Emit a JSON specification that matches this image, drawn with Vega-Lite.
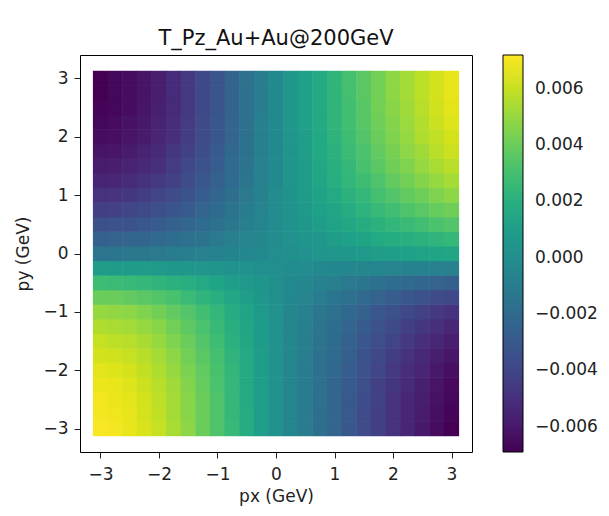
{
  "$schema": "https://vega.github.io/schema/vega-lite/v6.json",
  "autosize": {"type": "none"},
  "padding": {"left": 80, "top": 55, "right": 137, "bottom": 64},
  "width": 392,
  "height": 397,
  "background": "white",
  "title": {"text": "T_Pz_Au+Au@200GeV", "font": "DejaVu Sans", "fontSize": 21, "fontWeight": "normal", "color": "#111", "offset": 6},
  "config": {
    "view": {"stroke": "black", "strokeWidth": 1},
    "axis": {"labelFont": "DejaVu Sans", "titleFont": "DejaVu Sans", "labelFontSize": 17, "titleFontSize": 17, "titleFontWeight": "normal", "labelColor": "#222", "titleColor": "#222", "tickColor": "#222", "tickSize": 6, "grid": false, "domain": false},
    "legend": {"labelFont": "DejaVu Sans", "labelFontSize": 17, "labelColor": "#222"}
  },
  "data": {"values": [
{"px":-3,"py":-3,"v":0.0071},{"px":-2.75,"py":-3,"v":0.0070},{"px":-2.5,"py":-3,"v":0.0067},{"px":-2.25,"py":-3,"v":0.0064},{"px":-2,"py":-3,"v":0.0060},{"px":-1.75,"py":-3,"v":0.0054},{"px":-1.5,"py":-3,"v":0.0048},{"px":-1.25,"py":-3,"v":0.0040},{"px":-1,"py":-3,"v":0.0033},{"px":-0.75,"py":-3,"v":0.0026},{"px":-0.5,"py":-3,"v":0.0018},{"px":-0.25,"py":-3,"v":0.0010},{"px":0,"py":-3,"v":0.0002},{"px":0.25,"py":-3,"v":-0.0005},{"px":0.5,"py":-3,"v":-0.0011},{"px":0.75,"py":-3,"v":-0.0018},{"px":1,"py":-3,"v":-0.0024},{"px":1.25,"py":-3,"v":-0.0031},{"px":1.5,"py":-3,"v":-0.0037},{"px":1.75,"py":-3,"v":-0.0043},{"px":2,"py":-3,"v":-0.0049},{"px":2.25,"py":-3,"v":-0.0055},{"px":2.5,"py":-3,"v":-0.0060},{"px":2.75,"py":-3,"v":-0.0065},{"px":3,"py":-3,"v":-0.0069},
{"px":-3,"py":-2.75,"v":0.0070},{"px":-2.75,"py":-2.75,"v":0.0069},{"px":-2.5,"py":-2.75,"v":0.0067},{"px":-2.25,"py":-2.75,"v":0.0063},{"px":-2,"py":-2.75,"v":0.0059},{"px":-1.75,"py":-2.75,"v":0.0053},{"px":-1.5,"py":-2.75,"v":0.0047},{"px":-1.25,"py":-2.75,"v":0.0040},{"px":-1,"py":-2.75,"v":0.0033},{"px":-0.75,"py":-2.75,"v":0.0025},{"px":-0.5,"py":-2.75,"v":0.0018},{"px":-0.25,"py":-2.75,"v":0.0010},{"px":0,"py":-2.75,"v":0.0002},{"px":0.25,"py":-2.75,"v":-0.0005},{"px":0.5,"py":-2.75,"v":-0.0011},{"px":0.75,"py":-2.75,"v":-0.0018},{"px":1,"py":-2.75,"v":-0.0024},{"px":1.25,"py":-2.75,"v":-0.0030},{"px":1.5,"py":-2.75,"v":-0.0037},{"px":1.75,"py":-2.75,"v":-0.0043},{"px":2,"py":-2.75,"v":-0.0049},{"px":2.25,"py":-2.75,"v":-0.0054},{"px":2.5,"py":-2.75,"v":-0.0059},{"px":2.75,"py":-2.75,"v":-0.0064},{"px":3,"py":-2.75,"v":-0.0068},
{"px":-3,"py":-2.5,"v":0.0070},{"px":-2.75,"py":-2.5,"v":0.0068},{"px":-2.5,"py":-2.5,"v":0.0066},{"px":-2.25,"py":-2.5,"v":0.0063},{"px":-2,"py":-2.5,"v":0.0058},{"px":-1.75,"py":-2.5,"v":0.0053},{"px":-1.5,"py":-2.5,"v":0.0047},{"px":-1.25,"py":-2.5,"v":0.0040},{"px":-1,"py":-2.5,"v":0.0033},{"px":-0.75,"py":-2.5,"v":0.0025},{"px":-0.5,"py":-2.5,"v":0.0017},{"px":-0.25,"py":-2.5,"v":0.0010},{"px":0,"py":-2.5,"v":0.0002},{"px":0.25,"py":-2.5,"v":-0.0005},{"px":0.5,"py":-2.5,"v":-0.0011},{"px":0.75,"py":-2.5,"v":-0.0017},{"px":1,"py":-2.5,"v":-0.0024},{"px":1.25,"py":-2.5,"v":-0.0030},{"px":1.5,"py":-2.5,"v":-0.0036},{"px":1.75,"py":-2.5,"v":-0.0042},{"px":2,"py":-2.5,"v":-0.0048},{"px":2.25,"py":-2.5,"v":-0.0054},{"px":2.5,"py":-2.5,"v":-0.0058},{"px":2.75,"py":-2.5,"v":-0.0063},{"px":3,"py":-2.5,"v":-0.0067},
{"px":-3,"py":-2.25,"v":0.0068},{"px":-2.75,"py":-2.25,"v":0.0067},{"px":-2.5,"py":-2.25,"v":0.0065},{"px":-2.25,"py":-2.25,"v":0.0061},{"px":-2,"py":-2.25,"v":0.0057},{"px":-1.75,"py":-2.25,"v":0.0052},{"px":-1.5,"py":-2.25,"v":0.0046},{"px":-1.25,"py":-2.25,"v":0.0039},{"px":-1,"py":-2.25,"v":0.0032},{"px":-0.75,"py":-2.25,"v":0.0025},{"px":-0.5,"py":-2.25,"v":0.0017},{"px":-0.25,"py":-2.25,"v":0.0010},{"px":0,"py":-2.25,"v":0.0002},{"px":0.25,"py":-2.25,"v":-0.0005},{"px":0.5,"py":-2.25,"v":-0.0011},{"px":0.75,"py":-2.25,"v":-0.0017},{"px":1,"py":-2.25,"v":-0.0023},{"px":1.25,"py":-2.25,"v":-0.0029},{"px":1.5,"py":-2.25,"v":-0.0035},{"px":1.75,"py":-2.25,"v":-0.0042},{"px":2,"py":-2.25,"v":-0.0047},{"px":2.25,"py":-2.25,"v":-0.0052},{"px":2.5,"py":-2.25,"v":-0.0057},{"px":2.75,"py":-2.25,"v":-0.0062},{"px":3,"py":-2.25,"v":-0.0066},
{"px":-3,"py":-2,"v":0.0066},{"px":-2.75,"py":-2,"v":0.0065},{"px":-2.5,"py":-2,"v":0.0063},{"px":-2.25,"py":-2,"v":0.0059},{"px":-2,"py":-2,"v":0.0055},{"px":-1.75,"py":-2,"v":0.0050},{"px":-1.5,"py":-2,"v":0.0044},{"px":-1.25,"py":-2,"v":0.0038},{"px":-1,"py":-2,"v":0.0031},{"px":-0.75,"py":-2,"v":0.0024},{"px":-0.5,"py":-2,"v":0.0017},{"px":-0.25,"py":-2,"v":0.0009},{"px":0,"py":-2,"v":0.0002},{"px":0.25,"py":-2,"v":-0.0005},{"px":0.5,"py":-2,"v":-0.0011},{"px":0.75,"py":-2,"v":-0.0017},{"px":1,"py":-2,"v":-0.0022},{"px":1.25,"py":-2,"v":-0.0028},{"px":1.5,"py":-2,"v":-0.0034},{"px":1.75,"py":-2,"v":-0.0040},{"px":2,"py":-2,"v":-0.0046},{"px":2.25,"py":-2,"v":-0.0051},{"px":2.5,"py":-2,"v":-0.0055},{"px":2.75,"py":-2,"v":-0.0060},{"px":3,"py":-2,"v":-0.0064},
{"px":-3,"py":-1.75,"v":0.0063},{"px":-2.75,"py":-1.75,"v":0.0062},{"px":-2.5,"py":-1.75,"v":0.0060},{"px":-2.25,"py":-1.75,"v":0.0057},{"px":-2,"py":-1.75,"v":0.0053},{"px":-1.75,"py":-1.75,"v":0.0048},{"px":-1.5,"py":-1.75,"v":0.0042},{"px":-1.25,"py":-1.75,"v":0.0036},{"px":-1,"py":-1.75,"v":0.0030},{"px":-0.75,"py":-1.75,"v":0.0023},{"px":-0.5,"py":-1.75,"v":0.0016},{"px":-0.25,"py":-1.75,"v":0.0009},{"px":0,"py":-1.75,"v":0.0002},{"px":0.25,"py":-1.75,"v":-0.0004},{"px":0.5,"py":-1.75,"v":-0.0010},{"px":0.75,"py":-1.75,"v":-0.0016},{"px":1,"py":-1.75,"v":-0.0021},{"px":1.25,"py":-1.75,"v":-0.0027},{"px":1.5,"py":-1.75,"v":-0.0033},{"px":1.75,"py":-1.75,"v":-0.0039},{"px":2,"py":-1.75,"v":-0.0044},{"px":2.25,"py":-1.75,"v":-0.0049},{"px":2.5,"py":-1.75,"v":-0.0053},{"px":2.75,"py":-1.75,"v":-0.0058},{"px":3,"py":-1.75,"v":-0.0061},
{"px":-3,"py":-1.5,"v":0.0060},{"px":-2.75,"py":-1.5,"v":0.0058},{"px":-2.5,"py":-1.5,"v":0.0057},{"px":-2.25,"py":-1.5,"v":0.0054},{"px":-2,"py":-1.5,"v":0.0050},{"px":-1.75,"py":-1.5,"v":0.0045},{"px":-1.5,"py":-1.5,"v":0.0040},{"px":-1.25,"py":-1.5,"v":0.0034},{"px":-1,"py":-1.5,"v":0.0028},{"px":-0.75,"py":-1.5,"v":0.0021},{"px":-0.5,"py":-1.5,"v":0.0015},{"px":-0.25,"py":-1.5,"v":0.0008},{"px":0,"py":-1.5,"v":0.0002},{"px":0.25,"py":-1.5,"v":-0.0004},{"px":0.5,"py":-1.5,"v":-0.0010},{"px":0.75,"py":-1.5,"v":-0.0015},{"px":1,"py":-1.5,"v":-0.0020},{"px":1.25,"py":-1.5,"v":-0.0026},{"px":1.5,"py":-1.5,"v":-0.0031},{"px":1.75,"py":-1.5,"v":-0.0036},{"px":2,"py":-1.5,"v":-0.0041},{"px":2.25,"py":-1.5,"v":-0.0046},{"px":2.5,"py":-1.5,"v":-0.0050},{"px":2.75,"py":-1.5,"v":-0.0054},{"px":3,"py":-1.5,"v":-0.0058},
{"px":-3,"py":-1.25,"v":0.0055},{"px":-2.75,"py":-1.25,"v":0.0054},{"px":-2.5,"py":-1.25,"v":0.0053},{"px":-2.25,"py":-1.25,"v":0.0050},{"px":-2,"py":-1.25,"v":0.0047},{"px":-1.75,"py":-1.25,"v":0.0042},{"px":-1.5,"py":-1.25,"v":0.0037},{"px":-1.25,"py":-1.25,"v":0.0032},{"px":-1,"py":-1.25,"v":0.0026},{"px":-0.75,"py":-1.25,"v":0.0020},{"px":-0.5,"py":-1.25,"v":0.0014},{"px":-0.25,"py":-1.25,"v":0.0008},{"px":0,"py":-1.25,"v":0.0002},{"px":0.25,"py":-1.25,"v":-0.0004},{"px":0.5,"py":-1.25,"v":-0.0009},{"px":0.75,"py":-1.25,"v":-0.0014},{"px":1,"py":-1.25,"v":-0.0019},{"px":1.25,"py":-1.25,"v":-0.0024},{"px":1.5,"py":-1.25,"v":-0.0029},{"px":1.75,"py":-1.25,"v":-0.0034},{"px":2,"py":-1.25,"v":-0.0038},{"px":2.25,"py":-1.25,"v":-0.0043},{"px":2.5,"py":-1.25,"v":-0.0047},{"px":2.75,"py":-1.25,"v":-0.0050},{"px":3,"py":-1.25,"v":-0.0054},
{"px":-3,"py":-1,"v":0.0050},{"px":-2.75,"py":-1,"v":0.0049},{"px":-2.5,"py":-1,"v":0.0048},{"px":-2.25,"py":-1,"v":0.0045},{"px":-2,"py":-1,"v":0.0042},{"px":-1.75,"py":-1,"v":0.0038},{"px":-1.5,"py":-1,"v":0.0034},{"px":-1.25,"py":-1,"v":0.0029},{"px":-1,"py":-1,"v":0.0024},{"px":-0.75,"py":-1,"v":0.0018},{"px":-0.5,"py":-1,"v":0.0013},{"px":-0.25,"py":-1,"v":0.0007},{"px":0,"py":-1,"v":0.0002},{"px":0.25,"py":-1,"v":-0.0004},{"px":0.5,"py":-1,"v":-0.0008},{"px":0.75,"py":-1,"v":-0.0013},{"px":1,"py":-1,"v":-0.0017},{"px":1.25,"py":-1,"v":-0.0022},{"px":1.5,"py":-1,"v":-0.0026},{"px":1.75,"py":-1,"v":-0.0031},{"px":2,"py":-1,"v":-0.0035},{"px":2.25,"py":-1,"v":-0.0039},{"px":2.5,"py":-1,"v":-0.0042},{"px":2.75,"py":-1,"v":-0.0046},{"px":3,"py":-1,"v":-0.0049},
{"px":-3,"py":-0.75,"v":0.0040},{"px":-2.75,"py":-0.75,"v":0.0040},{"px":-2.5,"py":-0.75,"v":0.0038},{"px":-2.25,"py":-0.75,"v":0.0036},{"px":-2,"py":-0.75,"v":0.0034},{"px":-1.75,"py":-0.75,"v":0.0031},{"px":-1.5,"py":-0.75,"v":0.0027},{"px":-1.25,"py":-0.75,"v":0.0023},{"px":-1,"py":-0.75,"v":0.0019},{"px":-0.75,"py":-0.75,"v":0.0015},{"px":-0.5,"py":-0.75,"v":0.0010},{"px":-0.25,"py":-0.75,"v":0.0006},{"px":0,"py":-0.75,"v":0.0001},{"px":0.25,"py":-0.75,"v":-0.0003},{"px":0.5,"py":-0.75,"v":-0.0006},{"px":0.75,"py":-0.75,"v":-0.0010},{"px":1,"py":-0.75,"v":-0.0014},{"px":1.25,"py":-0.75,"v":-0.0017},{"px":1.5,"py":-0.75,"v":-0.0021},{"px":1.75,"py":-0.75,"v":-0.0025},{"px":2,"py":-0.75,"v":-0.0028},{"px":2.25,"py":-0.75,"v":-0.0031},{"px":2.5,"py":-0.75,"v":-0.0034},{"px":2.75,"py":-0.75,"v":-0.0037},{"px":3,"py":-0.75,"v":-0.0039},
{"px":-3,"py":-0.5,"v":0.0028},{"px":-2.75,"py":-0.5,"v":0.0027},{"px":-2.5,"py":-0.5,"v":0.0026},{"px":-2.25,"py":-0.5,"v":0.0025},{"px":-2,"py":-0.5,"v":0.0023},{"px":-1.75,"py":-0.5,"v":0.0021},{"px":-1.5,"py":-0.5,"v":0.0019},{"px":-1.25,"py":-0.5,"v":0.0016},{"px":-1,"py":-0.5,"v":0.0013},{"px":-0.75,"py":-0.5,"v":0.0010},{"px":-0.5,"py":-0.5,"v":0.0007},{"px":-0.25,"py":-0.5,"v":0.0004},{"px":0,"py":-0.5,"v":0.0001},{"px":0.25,"py":-0.5,"v":-0.0002},{"px":0.5,"py":-0.5,"v":-0.0004},{"px":0.75,"py":-0.5,"v":-0.0007},{"px":1,"py":-0.5,"v":-0.0009},{"px":1.25,"py":-0.5,"v":-0.0012},{"px":1.5,"py":-0.5,"v":-0.0014},{"px":1.75,"py":-0.5,"v":-0.0017},{"px":2,"py":-0.5,"v":-0.0019},{"px":2.25,"py":-0.5,"v":-0.0021},{"px":2.5,"py":-0.5,"v":-0.0023},{"px":2.75,"py":-0.5,"v":-0.0025},{"px":3,"py":-0.5,"v":-0.0027},
{"px":-3,"py":-0.25,"v":0.0009},{"px":-2.75,"py":-0.25,"v":0.0008},{"px":-2.5,"py":-0.25,"v":0.0008},{"px":-2.25,"py":-0.25,"v":0.0008},{"px":-2,"py":-0.25,"v":0.0007},{"px":-1.75,"py":-0.25,"v":0.0006},{"px":-1.5,"py":-0.25,"v":0.0006},{"px":-1.25,"py":-0.25,"v":0.0005},{"px":-1,"py":-0.25,"v":0.0004},{"px":-0.75,"py":-0.25,"v":0.0003},{"px":-0.5,"py":-0.25,"v":0.0002},{"px":-0.25,"py":-0.25,"v":0.0001},{"px":0,"py":-0.25,"v":0.0000},{"px":0.25,"py":-0.25,"v":-0.0001},{"px":0.5,"py":-0.25,"v":-0.0001},{"px":0.75,"py":-0.25,"v":-0.0002},{"px":1,"py":-0.25,"v":-0.0003},{"px":1.25,"py":-0.25,"v":-0.0004},{"px":1.5,"py":-0.25,"v":-0.0004},{"px":1.75,"py":-0.25,"v":-0.0005},{"px":2,"py":-0.25,"v":-0.0006},{"px":2.25,"py":-0.25,"v":-0.0007},{"px":2.5,"py":-0.25,"v":-0.0007},{"px":2.75,"py":-0.25,"v":-0.0008},{"px":3,"py":-0.25,"v":-0.0008},
{"px":-3,"py":0,"v":-0.0014},{"px":-2.75,"py":0,"v":-0.0014},{"px":-2.5,"py":0,"v":-0.0013},{"px":-2.25,"py":0,"v":-0.0013},{"px":-2,"py":0,"v":-0.0012},{"px":-1.75,"py":0,"v":-0.0011},{"px":-1.5,"py":0,"v":-0.0010},{"px":-1.25,"py":0,"v":-0.0008},{"px":-1,"py":0,"v":-0.0007},{"px":-0.75,"py":0,"v":-0.0005},{"px":-0.5,"py":0,"v":-0.0004},{"px":-0.25,"py":0,"v":-0.0002},{"px":0,"py":0,"v":0.0000},{"px":0.25,"py":0,"v":0.0001},{"px":0.5,"py":0,"v":0.0002},{"px":0.75,"py":0,"v":0.0004},{"px":1,"py":0,"v":0.0005},{"px":1.25,"py":0,"v":0.0006},{"px":1.5,"py":0,"v":0.0007},{"px":1.75,"py":0,"v":0.0009},{"px":2,"py":0,"v":0.0010},{"px":2.25,"py":0,"v":0.0011},{"px":2.5,"py":0,"v":0.0012},{"px":2.75,"py":0,"v":0.0013},{"px":3,"py":0,"v":0.0014},
{"px":-3,"py":0.25,"v":-0.0026},{"px":-2.75,"py":0.25,"v":-0.0025},{"px":-2.5,"py":0.25,"v":-0.0024},{"px":-2.25,"py":0.25,"v":-0.0023},{"px":-2,"py":0.25,"v":-0.0021},{"px":-1.75,"py":0.25,"v":-0.0019},{"px":-1.5,"py":0.25,"v":-0.0017},{"px":-1.25,"py":0.25,"v":-0.0015},{"px":-1,"py":0.25,"v":-0.0012},{"px":-0.75,"py":0.25,"v":-0.0009},{"px":-0.5,"py":0.25,"v":-0.0006},{"px":-0.25,"py":0.25,"v":-0.0004},{"px":0,"py":0.25,"v":-0.0001},{"px":0.25,"py":0.25,"v":0.0002},{"px":0.5,"py":0.25,"v":0.0004},{"px":0.75,"py":0.25,"v":0.0006},{"px":1,"py":0.25,"v":0.0009},{"px":1.25,"py":0.25,"v":0.0011},{"px":1.5,"py":0.25,"v":0.0013},{"px":1.75,"py":0.25,"v":0.0016},{"px":2,"py":0.25,"v":0.0018},{"px":2.25,"py":0.25,"v":0.0020},{"px":2.5,"py":0.25,"v":0.0021},{"px":2.75,"py":0.25,"v":0.0023},{"px":3,"py":0.25,"v":0.0025},
{"px":-3,"py":0.5,"v":-0.0035},{"px":-2.75,"py":0.5,"v":-0.0034},{"px":-2.5,"py":0.5,"v":-0.0033},{"px":-2.25,"py":0.5,"v":-0.0031},{"px":-2,"py":0.5,"v":-0.0029},{"px":-1.75,"py":0.5,"v":-0.0026},{"px":-1.5,"py":0.5,"v":-0.0023},{"px":-1.25,"py":0.5,"v":-0.0020},{"px":-1,"py":0.5,"v":-0.0016},{"px":-0.75,"py":0.5,"v":-0.0013},{"px":-0.5,"py":0.5,"v":-0.0009},{"px":-0.25,"py":0.5,"v":-0.0005},{"px":0,"py":0.5,"v":-0.0001},{"px":0.25,"py":0.5,"v":0.0002},{"px":0.5,"py":0.5,"v":0.0006},{"px":0.75,"py":0.5,"v":0.0009},{"px":1,"py":0.5,"v":0.0012},{"px":1.25,"py":0.5,"v":0.0015},{"px":1.5,"py":0.5,"v":0.0018},{"px":1.75,"py":0.5,"v":0.0021},{"px":2,"py":0.5,"v":0.0024},{"px":2.25,"py":0.5,"v":0.0027},{"px":2.5,"py":0.5,"v":0.0029},{"px":2.75,"py":0.5,"v":0.0032},{"px":3,"py":0.5,"v":0.0034},
{"px":-3,"py":0.75,"v":-0.0043},{"px":-2.75,"py":0.75,"v":-0.0042},{"px":-2.5,"py":0.75,"v":-0.0040},{"px":-2.25,"py":0.75,"v":-0.0038},{"px":-2,"py":0.75,"v":-0.0036},{"px":-1.75,"py":0.75,"v":-0.0032},{"px":-1.5,"py":0.75,"v":-0.0029},{"px":-1.25,"py":0.75,"v":-0.0024},{"px":-1,"py":0.75,"v":-0.0020},{"px":-0.75,"py":0.75,"v":-0.0015},{"px":-0.5,"py":0.75,"v":-0.0011},{"px":-0.25,"py":0.75,"v":-0.0006},{"px":0,"py":0.75,"v":-0.0001},{"px":0.25,"py":0.75,"v":0.0003},{"px":0.5,"py":0.75,"v":0.0007},{"px":0.75,"py":0.75,"v":0.0011},{"px":1,"py":0.75,"v":0.0014},{"px":1.25,"py":0.75,"v":0.0018},{"px":1.5,"py":0.75,"v":0.0022},{"px":1.75,"py":0.75,"v":0.0026},{"px":2,"py":0.75,"v":0.0029},{"px":2.25,"py":0.75,"v":0.0033},{"px":2.5,"py":0.75,"v":0.0036},{"px":2.75,"py":0.75,"v":0.0039},{"px":3,"py":0.75,"v":0.0041},
{"px":-3,"py":1,"v":-0.0049},{"px":-2.75,"py":1,"v":-0.0048},{"px":-2.5,"py":1,"v":-0.0047},{"px":-2.25,"py":1,"v":-0.0044},{"px":-2,"py":1,"v":-0.0041},{"px":-1.75,"py":1,"v":-0.0037},{"px":-1.5,"py":1,"v":-0.0033},{"px":-1.25,"py":1,"v":-0.0028},{"px":-1,"py":1,"v":-0.0023},{"px":-0.75,"py":1,"v":-0.0018},{"px":-0.5,"py":1,"v":-0.0012},{"px":-0.25,"py":1,"v":-0.0007},{"px":0,"py":1,"v":-0.0001},{"px":0.25,"py":1,"v":0.0003},{"px":0.5,"py":1,"v":0.0008},{"px":0.75,"py":1,"v":0.0012},{"px":1,"py":1,"v":0.0017},{"px":1.25,"py":1,"v":0.0021},{"px":1.5,"py":1,"v":0.0025},{"px":1.75,"py":1,"v":0.0030},{"px":2,"py":1,"v":0.0034},{"px":2.25,"py":1,"v":0.0038},{"px":2.5,"py":1,"v":0.0041},{"px":2.75,"py":1,"v":0.0045},{"px":3,"py":1,"v":0.0048},
{"px":-3,"py":1.25,"v":-0.0055},{"px":-2.75,"py":1.25,"v":-0.0054},{"px":-2.5,"py":1.25,"v":-0.0052},{"px":-2.25,"py":1.25,"v":-0.0049},{"px":-2,"py":1.25,"v":-0.0046},{"px":-1.75,"py":1.25,"v":-0.0042},{"px":-1.5,"py":1.25,"v":-0.0037},{"px":-1.25,"py":1.25,"v":-0.0031},{"px":-1,"py":1.25,"v":-0.0026},{"px":-0.75,"py":1.25,"v":-0.0020},{"px":-0.5,"py":1.25,"v":-0.0014},{"px":-0.25,"py":1.25,"v":-0.0008},{"px":0,"py":1.25,"v":-0.0002},{"px":0.25,"py":1.25,"v":0.0004},{"px":0.5,"py":1.25,"v":0.0009},{"px":0.75,"py":1.25,"v":0.0014},{"px":1,"py":1.25,"v":0.0019},{"px":1.25,"py":1.25,"v":0.0024},{"px":1.5,"py":1.25,"v":0.0028},{"px":1.75,"py":1.25,"v":0.0033},{"px":2,"py":1.25,"v":0.0038},{"px":2.25,"py":1.25,"v":0.0042},{"px":2.5,"py":1.25,"v":0.0046},{"px":2.75,"py":1.25,"v":0.0050},{"px":3,"py":1.25,"v":0.0053},
{"px":-3,"py":1.5,"v":-0.0059},{"px":-2.75,"py":1.5,"v":-0.0058},{"px":-2.5,"py":1.5,"v":-0.0056},{"px":-2.25,"py":1.5,"v":-0.0053},{"px":-2,"py":1.5,"v":-0.0050},{"px":-1.75,"py":1.5,"v":-0.0045},{"px":-1.5,"py":1.5,"v":-0.0039},{"px":-1.25,"py":1.5,"v":-0.0034},{"px":-1,"py":1.5,"v":-0.0028},{"px":-0.75,"py":1.5,"v":-0.0021},{"px":-0.5,"py":1.5,"v":-0.0015},{"px":-0.25,"py":1.5,"v":-0.0008},{"px":0,"py":1.5,"v":-0.0002},{"px":0.25,"py":1.5,"v":0.0004},{"px":0.5,"py":1.5,"v":0.0009},{"px":0.75,"py":1.5,"v":0.0015},{"px":1,"py":1.5,"v":0.0020},{"px":1.25,"py":1.5,"v":0.0025},{"px":1.5,"py":1.5,"v":0.0031},{"px":1.75,"py":1.5,"v":0.0036},{"px":2,"py":1.5,"v":0.0041},{"px":2.25,"py":1.5,"v":0.0045},{"px":2.5,"py":1.5,"v":0.0050},{"px":2.75,"py":1.5,"v":0.0054},{"px":3,"py":1.5,"v":0.0057},
{"px":-3,"py":1.75,"v":-0.0062},{"px":-2.75,"py":1.75,"v":-0.0061},{"px":-2.5,"py":1.75,"v":-0.0059},{"px":-2.25,"py":1.75,"v":-0.0056},{"px":-2,"py":1.75,"v":-0.0052},{"px":-1.75,"py":1.75,"v":-0.0047},{"px":-1.5,"py":1.75,"v":-0.0042},{"px":-1.25,"py":1.75,"v":-0.0036},{"px":-1,"py":1.75,"v":-0.0029},{"px":-0.75,"py":1.75,"v":-0.0022},{"px":-0.5,"py":1.75,"v":-0.0016},{"px":-0.25,"py":1.75,"v":-0.0009},{"px":0,"py":1.75,"v":-0.0002},{"px":0.25,"py":1.75,"v":0.0004},{"px":0.5,"py":1.75,"v":0.0010},{"px":0.75,"py":1.75,"v":0.0016},{"px":1,"py":1.75,"v":0.0021},{"px":1.25,"py":1.75,"v":0.0027},{"px":1.5,"py":1.75,"v":0.0032},{"px":1.75,"py":1.75,"v":0.0038},{"px":2,"py":1.75,"v":0.0043},{"px":2.25,"py":1.75,"v":0.0048},{"px":2.5,"py":1.75,"v":0.0052},{"px":2.75,"py":1.75,"v":0.0057},{"px":3,"py":1.75,"v":0.0061},
{"px":-3,"py":2,"v":-0.0065},{"px":-2.75,"py":2,"v":-0.0064},{"px":-2.5,"py":2,"v":-0.0062},{"px":-2.25,"py":2,"v":-0.0059},{"px":-2,"py":2,"v":-0.0055},{"px":-1.75,"py":2,"v":-0.0050},{"px":-1.5,"py":2,"v":-0.0044},{"px":-1.25,"py":2,"v":-0.0037},{"px":-1,"py":2,"v":-0.0031},{"px":-0.75,"py":2,"v":-0.0024},{"px":-0.5,"py":2,"v":-0.0016},{"px":-0.25,"py":2,"v":-0.0009},{"px":0,"py":2,"v":-0.0002},{"px":0.25,"py":2,"v":0.0005},{"px":0.5,"py":2,"v":0.0010},{"px":0.75,"py":2,"v":0.0016},{"px":1,"py":2,"v":0.0022},{"px":1.25,"py":2,"v":0.0028},{"px":1.5,"py":2,"v":0.0034},{"px":1.75,"py":2,"v":0.0040},{"px":2,"py":2,"v":0.0045},{"px":2.25,"py":2,"v":0.0050},{"px":2.5,"py":2,"v":0.0055},{"px":2.75,"py":2,"v":0.0059},{"px":3,"py":2,"v":0.0063},
{"px":-3,"py":2.25,"v":-0.0067},{"px":-2.75,"py":2.25,"v":-0.0065},{"px":-2.5,"py":2.25,"v":-0.0063},{"px":-2.25,"py":2.25,"v":-0.0060},{"px":-2,"py":2.25,"v":-0.0056},{"px":-1.75,"py":2.25,"v":-0.0051},{"px":-1.5,"py":2.25,"v":-0.0045},{"px":-1.25,"py":2.25,"v":-0.0038},{"px":-1,"py":2.25,"v":-0.0031},{"px":-0.75,"py":2.25,"v":-0.0024},{"px":-0.5,"py":2.25,"v":-0.0017},{"px":-0.25,"py":2.25,"v":-0.0009},{"px":0,"py":2.25,"v":-0.0002},{"px":0.25,"py":2.25,"v":0.0005},{"px":0.5,"py":2.25,"v":0.0011},{"px":0.75,"py":2.25,"v":0.0017},{"px":1,"py":2.25,"v":0.0023},{"px":1.25,"py":2.25,"v":0.0029},{"px":1.5,"py":2.25,"v":0.0035},{"px":1.75,"py":2.25,"v":0.0041},{"px":2,"py":2.25,"v":0.0046},{"px":2.25,"py":2.25,"v":0.0051},{"px":2.5,"py":2.25,"v":0.0056},{"px":2.75,"py":2.25,"v":0.0061},{"px":3,"py":2.25,"v":0.0065},
{"px":-3,"py":2.5,"v":-0.0068},{"px":-2.75,"py":2.5,"v":-0.0067},{"px":-2.5,"py":2.5,"v":-0.0065},{"px":-2.25,"py":2.5,"v":-0.0061},{"px":-2,"py":2.5,"v":-0.0057},{"px":-1.75,"py":2.5,"v":-0.0052},{"px":-1.5,"py":2.5,"v":-0.0046},{"px":-1.25,"py":2.5,"v":-0.0039},{"px":-1,"py":2.5,"v":-0.0032},{"px":-0.75,"py":2.5,"v":-0.0025},{"px":-0.5,"py":2.5,"v":-0.0017},{"px":-0.25,"py":2.5,"v":-0.0010},{"px":0,"py":2.5,"v":-0.0002},{"px":0.25,"py":2.5,"v":0.0005},{"px":0.5,"py":2.5,"v":0.0011},{"px":0.75,"py":2.5,"v":0.0017},{"px":1,"py":2.5,"v":0.0023},{"px":1.25,"py":2.5,"v":0.0029},{"px":1.5,"py":2.5,"v":0.0035},{"px":1.75,"py":2.5,"v":0.0042},{"px":2,"py":2.5,"v":0.0047},{"px":2.25,"py":2.5,"v":0.0052},{"px":2.5,"py":2.5,"v":0.0057},{"px":2.75,"py":2.5,"v":0.0062},{"px":3,"py":2.5,"v":0.0066},
{"px":-3,"py":2.75,"v":-0.0069},{"px":-2.75,"py":2.75,"v":-0.0067},{"px":-2.5,"py":2.75,"v":-0.0065},{"px":-2.25,"py":2.75,"v":-0.0062},{"px":-2,"py":2.75,"v":-0.0058},{"px":-1.75,"py":2.75,"v":-0.0052},{"px":-1.5,"py":2.75,"v":-0.0046},{"px":-1.25,"py":2.75,"v":-0.0039},{"px":-1,"py":2.75,"v":-0.0032},{"px":-0.75,"py":2.75,"v":-0.0025},{"px":-0.5,"py":2.75,"v":-0.0017},{"px":-0.25,"py":2.75,"v":-0.0010},{"px":0,"py":2.75,"v":-0.0002},{"px":0.25,"py":2.75,"v":0.0005},{"px":0.5,"py":2.75,"v":0.0011},{"px":0.75,"py":2.75,"v":0.0017},{"px":1,"py":2.75,"v":0.0023},{"px":1.25,"py":2.75,"v":0.0030},{"px":1.5,"py":2.75,"v":0.0036},{"px":1.75,"py":2.75,"v":0.0042},{"px":2,"py":2.75,"v":0.0048},{"px":2.25,"py":2.75,"v":0.0053},{"px":2.5,"py":2.75,"v":0.0058},{"px":2.75,"py":2.75,"v":0.0063},{"px":3,"py":2.75,"v":0.0067},
{"px":-3,"py":3,"v":-0.0069},{"px":-2.75,"py":3,"v":-0.0067},{"px":-2.5,"py":3,"v":-0.0065},{"px":-2.25,"py":3,"v":-0.0062},{"px":-2,"py":3,"v":-0.0058},{"px":-1.75,"py":3,"v":-0.0052},{"px":-1.5,"py":3,"v":-0.0046},{"px":-1.25,"py":3,"v":-0.0039},{"px":-1,"py":3,"v":-0.0032},{"px":-0.75,"py":3,"v":-0.0025},{"px":-0.5,"py":3,"v":-0.0017},{"px":-0.25,"py":3,"v":-0.0010},{"px":0,"py":3,"v":-0.0002},{"px":0.25,"py":3,"v":0.0005},{"px":0.5,"py":3,"v":0.0011},{"px":0.75,"py":3,"v":0.0017},{"px":1,"py":3,"v":0.0023},{"px":1.25,"py":3,"v":0.0030},{"px":1.5,"py":3,"v":0.0036},{"px":1.75,"py":3,"v":0.0042},{"px":2,"py":3,"v":0.0048},{"px":2.25,"py":3,"v":0.0053},{"px":2.5,"py":3,"v":0.0058},{"px":2.75,"py":3,"v":0.0063},{"px":3,"py":3,"v":0.0067}
  ]},
  "mark": {"type": "square", "size": 230, "filled": true, "opacity": 1, "strokeWidth": 0},
  "encoding": {
    "x": {"field": "px", "type": "quantitative", "scale": {"domain": [-3.35, 3.35], "nice": false, "zero": false}, "axis": {"values": [-3, -2, -1, 0, 1, 2, 3], "format": "d", "title": "px (GeV)", "labelPadding": 8, "titlePadding": 6}},
    "y": {"field": "py", "type": "quantitative", "scale": {"domain": [-3.4, 3.4], "nice": false, "zero": false}, "axis": {"values": [-3, -2, -1, 0, 1, 2, 3], "format": "d", "title": "py (GeV)", "labelPadding": 6, "titlePadding": 10}},
    "color": {"field": "v", "type": "quantitative", "scale": {"scheme": "viridis", "domain": [-0.0069, 0.0072]}, "legend": {"title": null, "direction": "vertical", "orient": "right", "offset": 31, "padding": 0, "gradientLength": 397, "gradientThickness": 20, "gradientStrokeColor": "black", "gradientStrokeWidth": 1, "values": [-0.006, -0.004, -0.002, 0, 0.002, 0.004, 0.006], "format": ".3f", "labelOffset": 12}}
  }
}
